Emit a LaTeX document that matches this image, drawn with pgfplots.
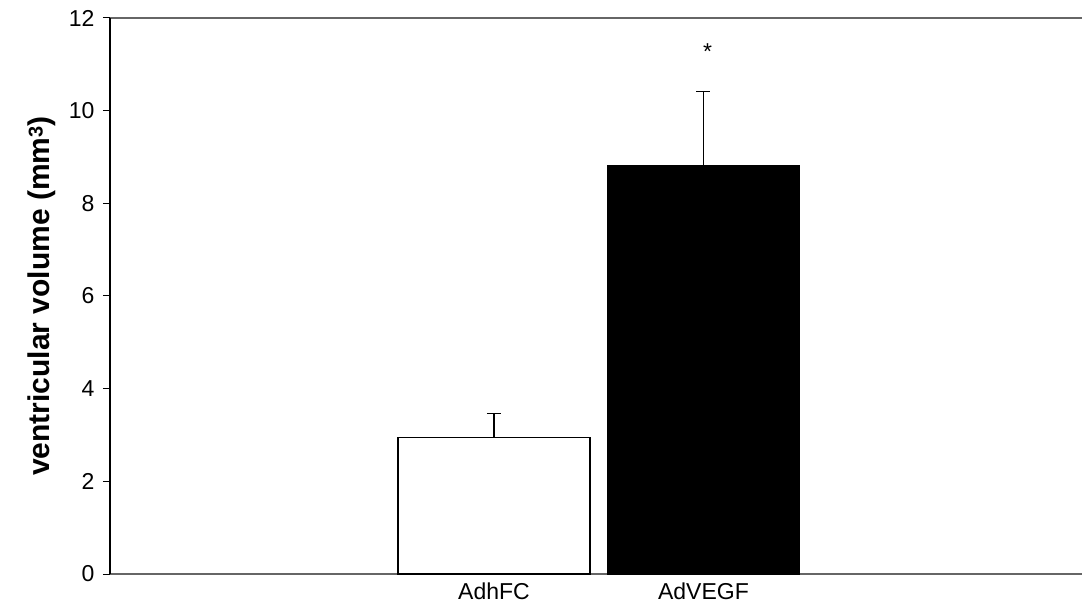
\documentclass[border=0pt]{standalone}
\usepackage{fontspec}
\setmainfont{Liberation Sans}
\usepackage{pgfplots}
\pgfplotsset{compat=1.18}
\begin{document}
\begin{tikzpicture}
\begin{axis}[
 scale only axis, width=972bp, height=556bp,
 xmin=-1.833, xmax=2.807, ymin=0, ymax=12,
 axis line style={draw=none},
 ytick={0,2,...,12}, ytick pos=left, tick align=outside, major tick length=7bp,
 ytick style={black, line width=1bp},
 xtick={0,1}, xticklabels={AdhFC,AdVEGF}, xtick style={draw=none},
 tick label style={font=\fontsize{23bp}{27bp}\selectfont},
 yticklabel style={xshift=-5bp},
 xticklabel style={yshift=2bp},
 /pgf/number format/assume math mode=true,
 ylabel={ventricular volume (mm\raisebox{0.45ex}{\fontsize{20bp}{24bp}\selectfont 3})},
 every axis y label/.style={at={(rel axis cs:0,0.5)}, xshift=-68bp, rotate=90, anchor=center,
   font=\fontsize{30bp}{34bp}\selectfont\bfseries},
 clip=false,
]
\draw[gray!80!black, line width=1.3bp] (rel axis cs:0,1) -- (rel axis cs:1,1);
\draw[gray!80!black, line width=1.3bp] (rel axis cs:0,0) -- (rel axis cs:1,0);
\draw[black, line width=1.2bp] (rel axis cs:0,0) -- (rel axis cs:0,1);
\addplot[ybar, bar width=0.917, bar shift=0pt, fill=white, draw=black, line width=1.3bp,
  error bars/.cd, y dir=plus, y explicit,
  error bar style={line width=1.4bp, black},
  error mark options={rotate=90, mark size=7bp, line width=1.4bp, black}]
  coordinates {(0,2.94) +- (0,0.52)};
\addplot[ybar, bar width=0.917, bar shift=0pt, fill=black, draw=black, line width=1.3bp,
  error bars/.cd, y dir=plus, y explicit,
  error bar style={line width=1.4bp, black},
  error mark options={rotate=90, mark size=7bp, line width=1.4bp, black}]
  coordinates {(1,8.81) +- (0,1.60)};
\node[font=\fontsize{23bp}{27bp}\selectfont] at (axis cs:1.02,11.28) {*};
\end{axis}
\pgfresetboundingbox
\path ([xshift=-110bp,yshift=-31bp]current axis.south west) rectangle ([yshift=18bp]current axis.north east);
\end{tikzpicture}
\end{document}
